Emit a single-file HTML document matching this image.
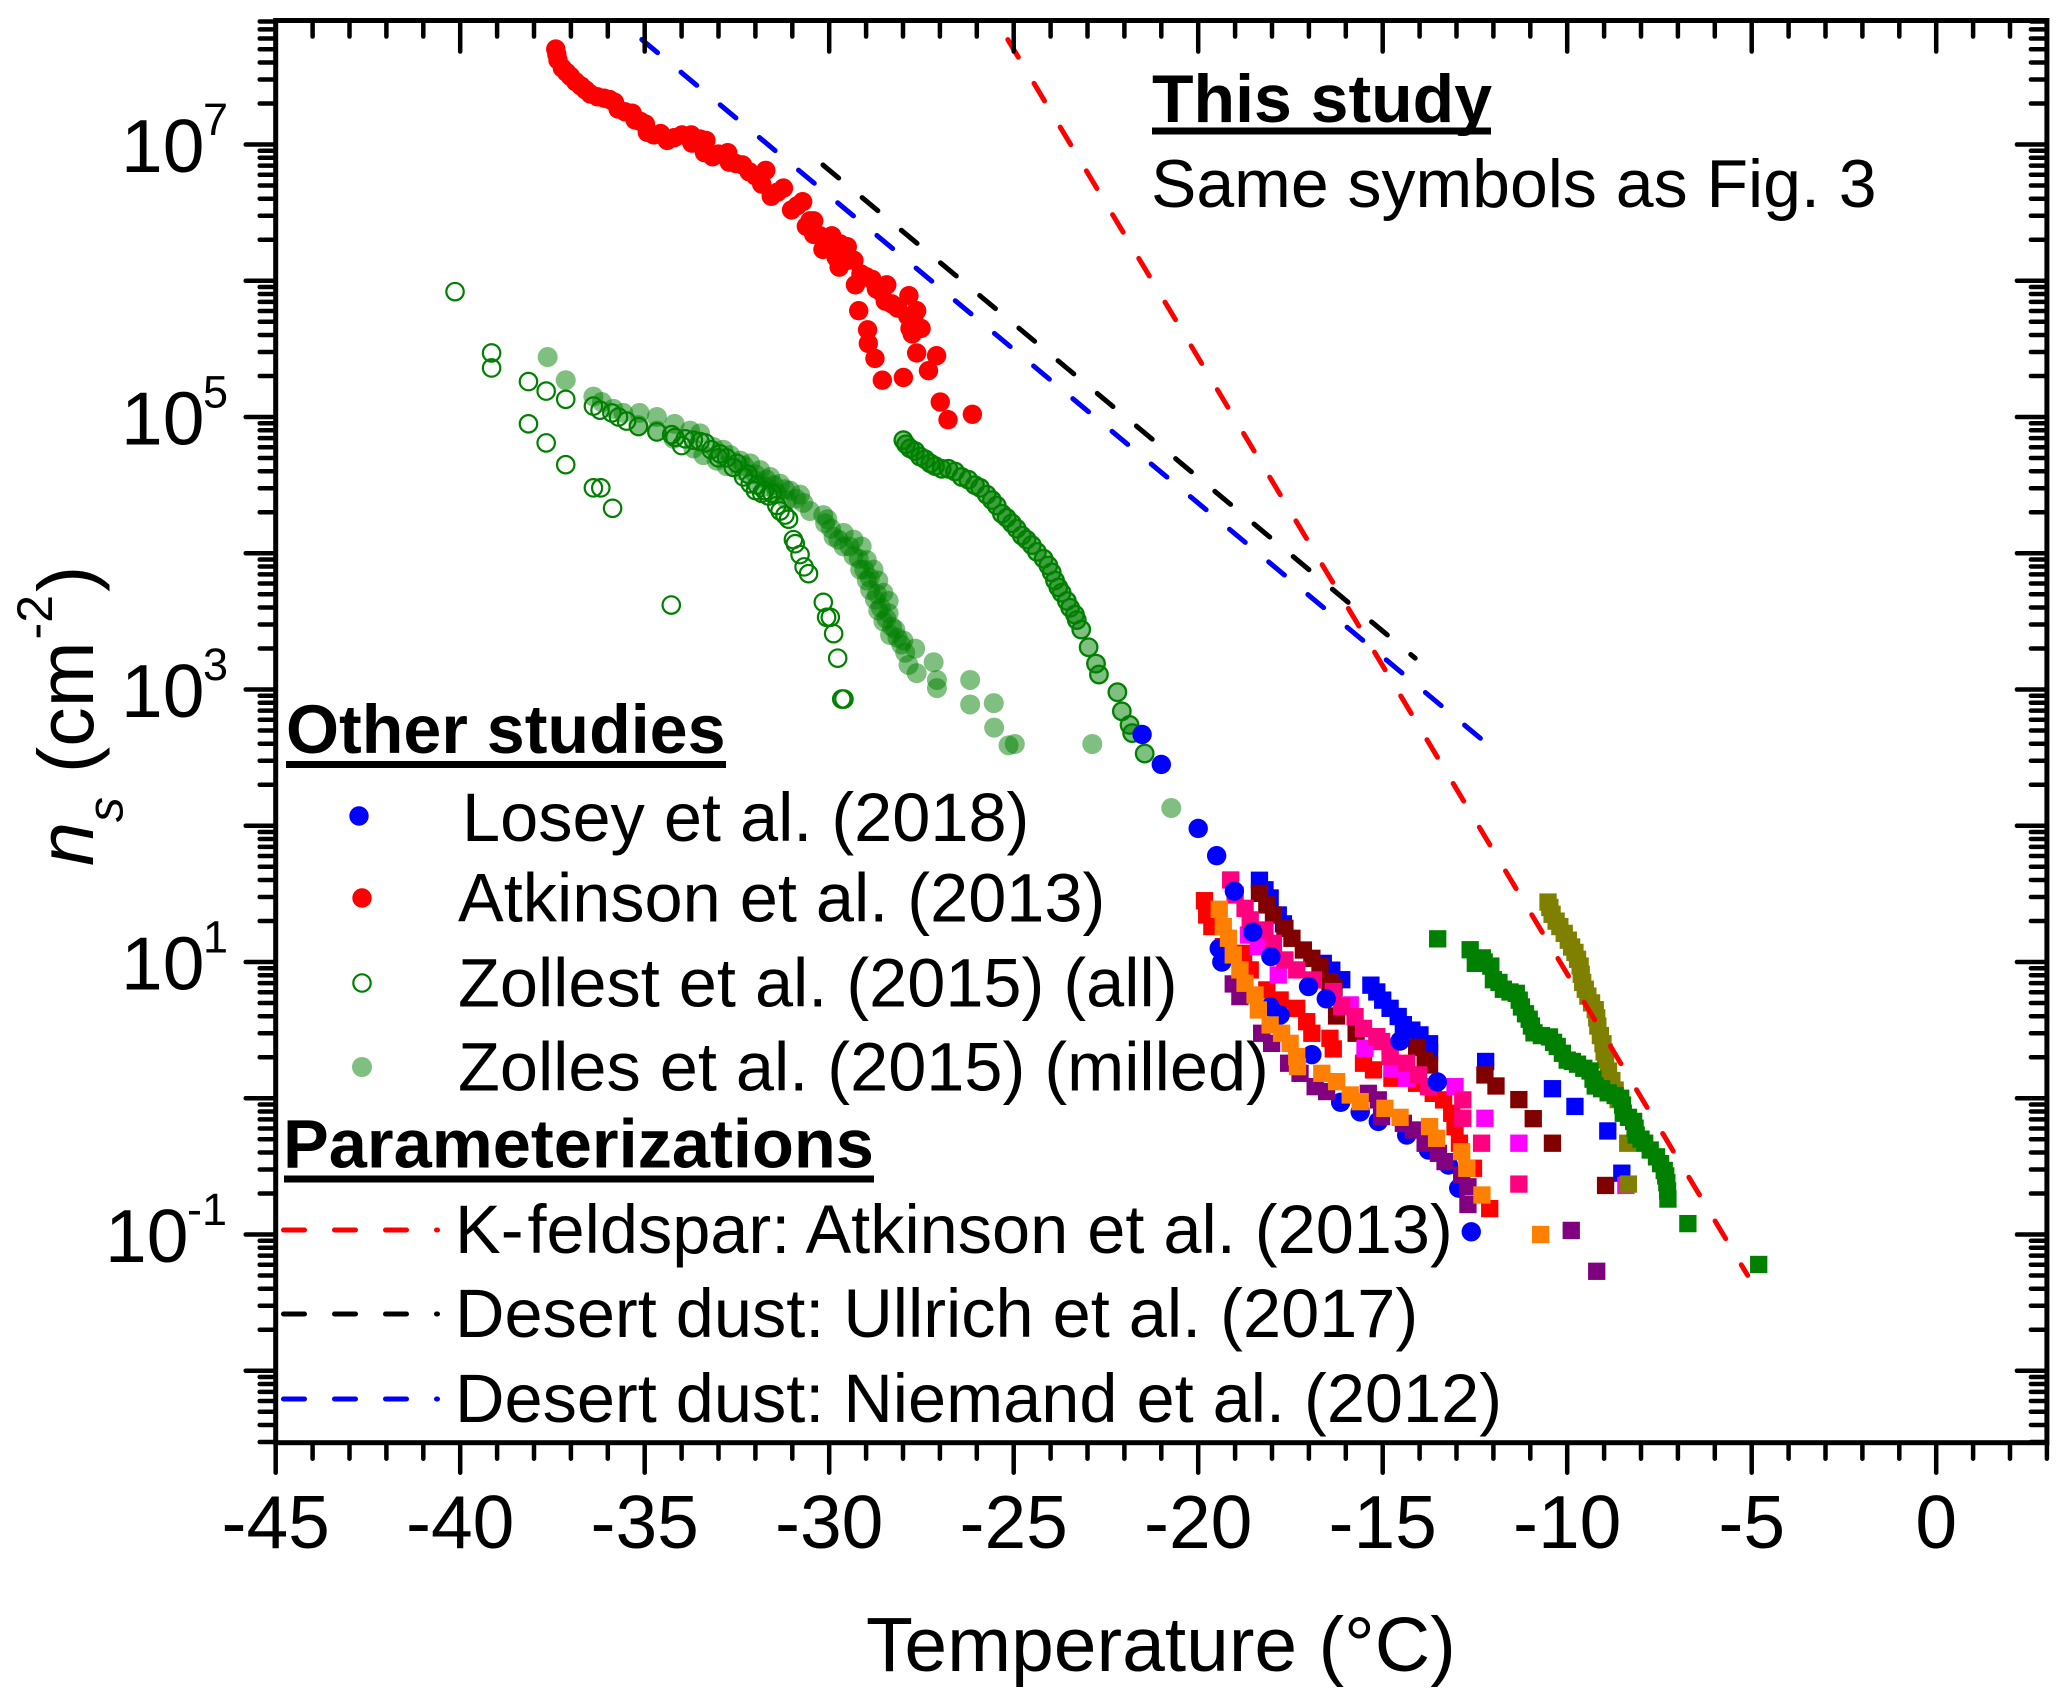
<!DOCTYPE html>
<html lang="en">
<head>
<meta charset="utf-8">
<title>Ice nucleation site density versus temperature</title>
<style>
html,body{margin:0;padding:0;background:#fff;}
svg{display:block;}
text{font-family:"Liberation Sans",Arial,sans-serif;fill:#000;}
</style>
</head>
<body>
<svg id="chart" xmlns="http://www.w3.org/2000/svg" width="2067" height="1705" viewBox="0 0 2067 1705">
  <rect x="0" y="0" width="2067" height="1705" fill="#fff"/>
  <defs><clipPath id="plot-clip"><rect x="275.7" y="20.5" width="1771.2" height="1422.2"/></clipPath></defs>
  <g id="points-layer" clip-path="url(#plot-clip)"></g>
  <g id="lines-layer" clip-path="url(#plot-clip)"></g>
  <g id="axes-layer"></g>

  <g>
    <text x="1152" y="122" font-size="68" font-weight="bold">This study</text>
    <rect x="1152" y="127.5" width="339" height="7"/>
    <text x="1151" y="207" font-size="68">Same symbols as Fig. 3</text>
  </g>

  <g>
    <text x="286" y="753" font-size="68.2" font-weight="bold">Other studies</text>
    <rect x="286" y="761" width="440" height="7"/>
    <circle cx="359" cy="816" r="9.7" fill="#0000ff"/>
    <text x="462" y="841" font-size="68.5">Losey et al. (2018)</text>
    <circle cx="362" cy="898" r="9.7" fill="#ff0000"/>
    <text x="458" y="921.7" font-size="68.5">Atkinson et al. (2013)</text>
    <circle cx="362" cy="983" r="8.7" fill="none" stroke="#008000" stroke-width="2.2"/>
    <text x="458" y="1006.7" font-size="68.5">Zollest et al. (2015) (all)</text>
    <circle cx="362" cy="1067" r="10" fill="#008000" fill-opacity="0.5"/>
    <text x="458" y="1090.7" font-size="68.5">Zolles et al. (2015) (milled)</text>
    <text x="283" y="1167.7" font-size="68.6" font-weight="bold">Parameterizations</text>
    <rect x="284" y="1175.5" width="590" height="7"/>
    <line x1="283.5" y1="1230" x2="437.5" y2="1230" stroke="#ff0000" stroke-width="5" stroke-linecap="round" stroke-dasharray="21 30"/>
    <text x="455" y="1253" font-size="68.5">K<tspan letter-spacing="4">-</tspan>feldspar: Atkinson et al. (2013)</text>
    <line x1="283.5" y1="1314" x2="437.5" y2="1314" stroke="#000000" stroke-width="5" stroke-linecap="round" stroke-dasharray="21 30"/>
    <text x="455" y="1337" font-size="68.5">Desert dust: Ullrich et al. (2017)</text>
    <line x1="283.5" y1="1399" x2="437.5" y2="1399" stroke="#0000ff" stroke-width="5" stroke-linecap="round" stroke-dasharray="21 30"/>
    <text x="455" y="1422" font-size="68.5">Desert dust: Niemand et al. (2012)</text>
  </g>

  <text x="866" y="1671" font-size="76.8">Temperature (°C)</text>
  <g transform="translate(93,866) rotate(-90)">
    <text font-size="79"><tspan font-style="italic">n</tspan><tspan font-size="50" font-style="italic" dy="29.7">s</tspan><tspan dx="24" dy="-29.7">(cm</tspan><tspan font-size="50" dx="2" dy="-41">-2</tspan><tspan dx="3" dy="41">)</tspan></text>
  </g>
</svg>

<script>
// ---- Axis tick values ----
const xMajorTicks = [-45,-40,-35,-30,-25,-20,-15,-10,-5,0];
const xTickLabels = ['-45','-40','-35','-30','-25','-20','-15','-10','-5','0'];
const xMinorTicks = [-44,-43,-42,-41,-39,-38,-37,-36,-34,-33,-32,-31,-29,-28,-27,-26,-24,-23,-22,-21,-19,-18,-17,-16,-14,-13,-12,-11,-9,-8,-7,-6,-4,-3,-2,-1,1,2,3];
const yDecades = [-2,-1,0,1,2,3,4,5,6,7];
const yLabelExponents = [7,5,3,1,-1];
const yMinorMultipliers = [2,3,4,5,6,7,8,9];
const yMinorExtra = [0.003,0.004,0.005,0.006,0.007,0.008,0.009];
const yTopMinor = [2e7,3e7,4e7,5e7,6e7,7e7,8e7];

// ---- Parameterization lines (temperature in C, log10 ns) ----
const kfeldsparT = [-25.16,-5.11];
const kfeldsparLogNs = [7.77,-1.30];
const ullrichT = [-30.17,-14.12];
const ullrichLogNs = [6.85,3.23];
const niemandT = [-36.14,-12.3];
const niemandLogNs = [8.01,2.63];

// ---- Atkinson et al. (2013) ----
const atkinsonT = [-37.41,-37.38,-37.35,-37.23,-37.12,-37.01,-36.87,-36.73,-36.6,-36.47,-36.28,-36.10,-35.95,-35.82,-35.72,-35.53,-35.34,-35.26,-35.12,-34.98,-34.93,-34.75,-34.57,-34.39,-34.2,-33.99,-33.74,-33.72,-33.5,-33.34,-33.38,-33.16,-33.0,-32.75,-32.71,-32.53,-32.35,-32.17,-32.0,-31.72,-31.83,-31.4,-31.24,-31.57,-30.87,-30.72,-31.02,-30.52,-30.42,-30.62,-30.25,-29.93,-30.42,-30.17,-29.95,-29.7,-29.66,-29.51,-29.5,-29.33,-29.81,-29.73,-29.14,-29.0,-28.84,-29.29,-28.6,-28.44,-28.72,-28.3,-27.84,-28.48,-28.15,-27.7,-27.63,-29.20,-27.87,-27.51,-27.81,-27.75,-28.96,-28.94,-28.76,-27.63,-27.09,-27.31,-28.56,-27.99,-26.99,-26.78,-26.12];
const atkinsonLogNs = [7.70,7.66,7.62,7.56,7.53,7.50,7.46,7.43,7.40,7.37,7.35,7.34,7.33,7.31,7.26,7.24,7.23,7.18,7.17,7.15,7.09,7.07,7.08,7.03,7.05,7.07,7.07,7.01,7.04,7.03,6.94,6.91,6.93,6.94,6.87,6.86,6.85,6.80,6.77,6.81,6.71,6.65,6.68,6.62,6.55,6.58,6.52,6.44,6.44,6.40,6.33,6.33,6.34,6.23,6.25,6.27,6.20,6.25,6.15,6.15,6.17,6.10,6.05,6.03,6.01,5.97,5.92,5.97,5.94,5.83,5.89,5.85,5.80,5.70,5.78,5.78,5.74,5.65,5.65,5.61,5.64,5.54,5.43,5.47,5.45,5.34,5.27,5.29,5.11,4.98,5.02];

// ---- Zolles et al. (2015), all samples only (open circles) ----
const zollesAllT = [-40.14,-39.15,-39.15,-38.15,-37.67,-37.14,-38.15,-37.67,-37.14,-36.39,-36.19,-35.87,-34.28,-36.39,-36.21,-35.89,-35.71,-35.49,-35.17,-34.67,-34.27,-34.18,-34.0,-33.9,-33.68,-33.5,-33.36,-33.2,-33.0,-32.96,-32.78,-32.6,-32.5,-32.32,-32.2,-32.14,-32.0,-31.95,-31.83,-31.75,-31.65,-31.55,-31.42,-31.33,-31.2,-31.1,-30.97,-30.92,-30.79,-30.68,-30.56,-30.16,-30.07,-29.97,-29.88,-29.77,-29.66,-29.6];
const zollesAllLogNs = [5.92,5.47,5.36,5.26,5.19,5.13,4.95,4.81,4.65,4.48,4.48,4.33,3.62,5.08,5.05,5.03,5.0,4.97,4.93,4.89,4.87,4.85,4.79,4.84,4.83,4.82,4.81,4.76,4.70,4.73,4.70,4.63,4.66,4.56,4.58,4.51,4.46,4.50,4.44,4.46,4.42,4.44,4.35,4.31,4.28,4.25,4.1,4.07,3.99,3.9,3.85,3.64,3.53,3.53,3.41,3.23,2.93,2.93];

// ---- Zolles et al. (2015), milled samples (filled circles) ----
const zollesMilledT = [-37.63,-37.14,-36.39,-36.16,-35.85,-35.58,-35.14,-35.17,-34.67,-34.67,-34.19,-34.22,-33.77,-33.5,-33.68,-33.41,-33.14,-32.87,-33.05,-32.68,-32.78,-32.41,-32.3,-32.14,-32.41,-32.0,-31.87,-32.05,-31.7,-31.6,-31.74,-31.5,-31.33,-31.42,-31.2,-31.06,-31.15,-30.9,-30.79,-30.7,-30.52,-30.16,-30.11,-30.05,-29.95,-29.88,-29.75,-29.61,-29.45,-29.34,-29.61,-29.2,-29.12,-29.34,-29.05,-28.98,-29.16,-28.9,-28.8,-28.98,-28.67,-28.89,-28.7,-28.53,-28.76,-28.6,-28.39,-28.67,-28.45,-28.39,-28.53,-28.3,-28.21,-28.35,-28.15,-28.05,-27.99,-27.67,-27.94,-27.85,-27.17,-27.63,-27.08,-27.08,-26.18,-26.18,-25.54,-25.53,-25.14,-24.97,-22.87,-20.73];
const zollesMilledLogNs = [5.44,5.27,5.15,5.11,5.06,5.03,5.03,4.94,5.0,4.9,4.95,4.84,4.9,4.88,4.77,4.72,4.78,4.76,4.68,4.72,4.64,4.68,4.64,4.66,4.61,4.58,4.61,4.54,4.54,4.56,4.49,4.5,4.51,4.44,4.47,4.46,4.39,4.4,4.43,4.37,4.31,4.28,4.22,4.25,4.18,4.12,4.1,4.15,4.05,4.1,4.05,3.96,4.05,3.98,3.88,3.95,3.88,3.82,3.88,3.8,3.8,3.73,3.7,3.71,3.66,3.6,3.65,3.58,3.52,3.56,3.5,3.46,3.44,3.4,3.38,3.33,3.36,3.3,3.27,3.18,3.2,3.12,3.07,3.01,3.07,2.89,2.90,2.72,2.59,2.60,2.60,2.13];

// ---- Zolles et al. (2015), curve present in both sets ----
const zollesBothT = [-27.99,-27.92,-27.81,-27.67,-27.54,-27.4,-27.26,-27.13,-26.95,-26.77,-26.59,-26.41,-26.23,-26.05,-25.91,-25.73,-25.59,-25.46,-25.32,-25.19,-25.05,-24.92,-24.78,-24.65,-24.51,-24.37,-24.19,-24.06,-23.97,-23.88,-23.79,-23.7,-23.56,-23.47,-23.34,-23.29,-23.17,-22.97,-22.77,-22.69,-22.19,-22.07,-21.86,-21.79,-21.45];
const zollesBothLogNs = [4.83,4.80,4.77,4.75,4.71,4.69,4.66,4.64,4.62,4.62,4.60,4.56,4.54,4.50,4.48,4.43,4.39,4.35,4.29,4.26,4.22,4.18,4.13,4.10,4.06,4.01,3.96,3.91,3.86,3.80,3.75,3.71,3.65,3.60,3.55,3.51,3.44,3.31,3.19,3.11,2.98,2.84,2.74,2.68,2.53];

// ---- Losey et al. (2018) ----
const loseyT = [-21.52,-21.0,-20.0,-19.5,-19.02,-18.52,-18.03,-17.01,-16.53,-14.53,-13.52,-12.6,-19.43,-19.36,-18.05,-17.78,-16.92,-16.14,-15.61,-15.12,-14.35,-13.76,-13.22,-12.94];
const loseyLogNs = [2.67,2.45,1.98,1.78,1.52,1.22,1.04,0.82,0.73,0.42,0.12,-0.98,1.10,1.0,0.67,0.61,0.32,-0.03,-0.10,-0.17,-0.27,-0.38,-0.49,-0.66];

// ---- This study (square symbols) ----
const blueSquareT = [-18.34,-18.19,-18.05,-17.83,-17.69,-16.61,-16.38,-16.11,-15.32,-15.16,-15.0,-14.8,-14.58,-14.44,-14.21,-13.99,-13.73,-13.73,-12.21,-10.4,-9.79,-8.9,-8.52];
const blueSquareLogNs = [1.60,1.53,1.47,1.345,1.28,0.99,0.94,0.87,0.83,0.78,0.72,0.66,0.60,0.54,0.50,0.465,0.40,0.34,0.27,0.07,-0.06,-0.24,-0.55];
const maroonSquareT = [-18.34,-18.14,-17.96,-17.65,-17.46,-17.15,-16.92,-16.7,-16.43,-16.32,-16.25,-15.72,-14.08,-13.85,-13.73,-12.23,-11.93,-11.31,-10.92,-10.4,-8.96];
const maroonSquareLogNs = [1.504,1.419,1.345,1.247,1.174,1.088,1.027,0.966,0.856,0.814,0.604,0.477,0.374,0.281,0.244,0.171,0.09,-0.01,-0.15,-0.33,-0.64];
const redSquareT = [-19.83,-19.77,-19.63,-19.32,-18.77,-18.59,-18.14,-17.78,-17.33,-17.06,-16.92,-16.43,-16.34,-15.52,-15.25,-14.75,-14.08,-13.63,-13.35,-13.13,-13.04,-12.92,-12.54,-12.1];
const redSquareLogNs = [1.45,1.345,1.26,1.113,1.064,0.942,0.795,0.721,0.66,0.562,0.477,0.44,0.362,0.257,0.208,0.147,0.11,0.036,-0.012,-0.11,-0.208,-0.33,-0.514,-0.81];
const magentaSquareT = [-18.64,-18.37,-17.83,-15.88,-15.48,-14.75,-14.35,-13.04,-12.23,-11.31,-8.41];
const magentaSquareLogNs = [1.198,1.113,0.905,0.685,0.367,0.22,0.147,0.085,-0.147,-0.33,-0.64];
const pinkSquareT = [-19.12,-19.0,-18.73,-18.59,-18.19,-17.96,-17.65,-17.33,-16.88,-16.34,-16.11,-15.75,-15.52,-15.16,-15.03,-14.8,-14.8,-14.35,-14.03,-13.76,-12.83,-12.83,-12.32,-11.31];
const pinkSquareLogNs = [1.602,1.492,1.394,1.309,1.235,1.137,1.015,0.942,0.868,0.783,0.673,0.599,0.513,0.452,0.416,0.379,0.306,0.257,0.171,0.085,-0.012,-0.147,-0.33,-0.63];
const purpleSquareT = [-19.05,-18.87,-18.28,-18.01,-17.55,-17.24,-16.83,-16.52,-15.39,-15.12,-15.03,-14.44,-14.17,-13.85,-13.49,-13.31,-12.86,-12.69,-12.69,-9.89,-9.2];
const purpleSquareLogNs = [0.839,0.746,0.477,0.403,0.257,0.183,0.085,0.049,0.036,-0.012,-0.135,-0.184,-0.233,-0.33,-0.404,-0.465,-0.563,-0.65,-0.78,-0.97,-1.27];
const orangeSquareT = [-19.43,-19.32,-19.18,-19.05,-18.87,-18.73,-18.46,-18.37,-18.05,-17.74,-17.51,-17.33,-17.31,-16.65,-16.25,-15.88,-15.61,-14.94,-14.53,-13.73,-13.54,-12.86,-12.72,-12.31,-10.72];
const orangeSquareLogNs = [1.387,1.26,1.174,1.052,0.942,0.844,0.758,0.648,0.538,0.477,0.403,0.306,0.232,0.183,0.122,0.024,-0.025,-0.074,-0.14,-0.208,-0.294,-0.392,-0.514,-0.71,-1.0];
const oliveSquareT = [-10.52,-10.47,-10.41,-10.3,-10.2,-10.08,-9.97,-9.88,-9.79,-9.72,-9.65,-9.62,-9.58,-9.51,-9.44,-9.34,-9.24,-9.2,-9.17,-9.1,-9.03,-9.0,-8.96,-8.88,-8.79,-8.7,-8.62,-8.36,-8.34];
const oliveSquareLogNs = [1.44,1.40,1.35,1.30,1.26,1.21,1.16,1.11,1.07,1.02,0.97,0.91,0.85,0.80,0.75,0.70,0.65,0.59,0.53,0.46,0.40,0.34,0.28,0.20,0.13,0.06,-0.01,-0.33,-0.63];
const greenSquareT = [-13.51,-12.63,-12.49,-12.3,-12.25,-12.07,-12.0,-11.85,-11.73,-11.55,-11.38,-11.3,-11.24,-11.13,-11.03,-10.97,-10.9,-10.7,-10.48,-10.37,-10.27,-10.13,-10.0,-9.86,-9.72,-9.55,-9.38,-9.3,-9.24,-9.07,-8.89,-8.7,-8.55,-8.5,-8.48,-8.34,-8.2,-8.16,-8.13,-8.0,-7.9,-7.75,-7.58,-7.47,-7.37,-7.33,-7.3,-7.28,-7.27,-6.73,-4.81];
const greenSquareLogNs = [1.17,1.09,0.99,1.03,1.0,0.97,0.87,0.85,0.8,0.78,0.77,0.72,0.67,0.62,0.58,0.53,0.48,0.46,0.45,0.41,0.38,0.33,0.28,0.27,0.25,0.22,0.2,0.14,0.09,0.07,0.04,0.02,0,-0.05,-0.11,-0.14,-0.17,-0.22,-0.27,-0.3,-0.33,-0.38,-0.43,-0.48,-0.53,-0.57,-0.62,-0.68,-0.74,-0.92,-1.22];

// ---- Axis functions ----
const NS = 'http://www.w3.org/2000/svg';
const xScale = function (t) { return 275.7 + (t + 45) * 36.9; };
const yScale = function (logNs) { return 144.5 + (7 - logNs) * 136.25; };
const PLOT = { left: xScale(-45), right: xScale(3), top: 20.5, bottom: 1442.7 };

const pointsLayer = document.getElementById('points-layer');
const linesLayer = document.getElementById('lines-layer');
const axesLayer = document.getElementById('axes-layer');

function drawCircles(name, ts, logs, r, fill, fillOpacity, stroke, strokeWidth) {
  ts.forEach(function (t, i) {
    const el = document.createElementNS(NS, 'circle');
    
    
    el.setAttribute('cx', xScale(t));
    el.setAttribute('cy', yScale(logs[i]));
    el.setAttribute('r', r);
    el.setAttribute('fill', fill);
    el.setAttribute('fill-opacity', fillOpacity);
    el.setAttribute('stroke', stroke);
    el.setAttribute('stroke-width', strokeWidth);
    pointsLayer.appendChild(el);
  });
}

function drawSquares(name, ts, logs, fill) {
  const side = 17.3;
  ts.forEach(function (t, i) {
    const el = document.createElementNS(NS, 'rect');
    
    
    el.setAttribute('x', xScale(t) - side / 2);
    el.setAttribute('y', yScale(logs[i]) - side / 2);
    el.setAttribute('width', side);
    el.setAttribute('height', side);
    el.setAttribute('fill', fill);
    pointsLayer.appendChild(el);
  });
}

function drawDashedLine(name, ts, logs, color) {
  const el = document.createElementNS(NS, 'line');
  
  
  el.setAttribute('x1', xScale(ts[0]));
  el.setAttribute('y1', yScale(logs[0]));
  el.setAttribute('x2', xScale(ts[1]));
  el.setAttribute('y2', yScale(logs[1]));
  el.setAttribute('stroke', color);
  el.setAttribute('stroke-width', 5);
  el.setAttribute('stroke-linecap', 'round');
  el.setAttribute('stroke-dasharray', '20.5 30.5');
  linesLayer.appendChild(el);
}

function drawTick(name, x1, y1, x2, y2) {
  const el = document.createElementNS(NS, 'line');
  
  
  el.setAttribute('x1', x1);
  el.setAttribute('y1', y1);
  el.setAttribute('x2', x2);
  el.setAttribute('y2', y2);
  el.setAttribute('stroke', '#000');
  el.setAttribute('stroke-width', 4.5);
  el.setAttribute('stroke-linecap', 'round');
  axesLayer.appendChild(el);
}

function drawLabel(name, x, y, size, anchor, str) {
  const el = document.createElementNS(NS, 'text');
  
  
  el.setAttribute('x', x);
  el.setAttribute('y', y);
  el.setAttribute('font-size', size);
  el.setAttribute('text-anchor', anchor);
  el.textContent = str;
  axesLayer.appendChild(el);
}

// ---- Points (back to front) ----
drawCircles('zolles-all-point', zollesAllT, zollesAllLogNs, 8.7, 'none', 1, '#008000', 2.2);
drawCircles('zolles-milled-point', zollesMilledT, zollesMilledLogNs, 10, '#008000', 0.5, 'none', 0);
drawCircles('zolles-milled-point', zollesBothT, zollesBothLogNs, 10, '#008000', 0.5, 'none', 0);
drawCircles('zolles-all-point', zollesBothT, zollesBothLogNs, 8.7, 'none', 1, '#008000', 2.2);
drawCircles('atkinson-point', atkinsonT, atkinsonLogNs, 9.7, '#ff0000', 1, 'none', 0);
drawSquares('study-point-blue', blueSquareT, blueSquareLogNs, '#0000ff');
drawSquares('study-point-maroon', maroonSquareT, maroonSquareLogNs, '#800000');
drawSquares('study-point-red', redSquareT, redSquareLogNs, '#ff0000');
drawSquares('study-point-magenta', magentaSquareT, magentaSquareLogNs, '#ff00ff');
drawSquares('study-point-pink', pinkSquareT, pinkSquareLogNs, '#ff0080');
drawCircles('losey-point', loseyT, loseyLogNs, 9.7, '#0000ff', 1, 'none', 0);
drawSquares('study-point-purple', purpleSquareT, purpleSquareLogNs, '#800080');
drawSquares('study-point-orange', orangeSquareT, orangeSquareLogNs, '#ff8000');
drawSquares('study-point-olive', oliveSquareT, oliveSquareLogNs, '#808000');
drawSquares('study-point-green', greenSquareT, greenSquareLogNs, '#008000');

// ---- Parameterizations ----
drawDashedLine('kfeldspar-line', kfeldsparT, kfeldsparLogNs, '#ff0000');
drawDashedLine('ullrich-line', ullrichT, ullrichLogNs, '#000000');
drawDashedLine('niemand-line', niemandT, niemandLogNs, '#0000ff');

// ---- Frame ----
const frame = document.createElementNS(NS, 'rect');


frame.setAttribute('x', PLOT.left);
frame.setAttribute('y', PLOT.top);
frame.setAttribute('width', PLOT.right - PLOT.left);
frame.setAttribute('height', PLOT.bottom - PLOT.top);
frame.setAttribute('fill', 'none');
frame.setAttribute('stroke', '#000');
frame.setAttribute('stroke-width', 5);
axesLayer.appendChild(frame);

// ---- X ticks ----
xMajorTicks.forEach(function (t, i) {
  const x = xScale(t);
  drawTick('x-major-tick', x, PLOT.bottom, x, PLOT.bottom + 30);
  drawTick('x-major-tick-top', x, PLOT.top, x, PLOT.top + 31);
  drawLabel('x-tick-label', x, 1548, 75, 'middle', xTickLabels[i]);
});
xMinorTicks.forEach(function (t) {
  const x = xScale(t);
  drawTick('x-minor-tick', x, PLOT.bottom, x, PLOT.bottom + 16);
  if (t < 3) {
    drawTick('x-minor-tick-top', x, PLOT.top, x, PLOT.top + 16);
  }
});

// ---- Y ticks ----
function drawYMinor(value) {
  const y = yScale(Math.log10(value));
  drawTick('y-minor-tick', PLOT.left, y, PLOT.left - 16, y);
  drawTick('y-minor-tick-right', PLOT.right, y, PLOT.right - 16, y);
}
yDecades.forEach(function (d) {
  const y = yScale(d);
  drawTick('y-major-tick', PLOT.left, y, PLOT.left - 30, y);
  drawTick('y-major-tick-right', PLOT.right, y, PLOT.right - 30, y);
  if (d < 7) {
    yMinorMultipliers.forEach(function (m) {
      drawYMinor(m * Math.pow(10, d));
    });
  }
});
yMinorExtra.forEach(drawYMinor);
yTopMinor.forEach(drawYMinor);

yLabelExponents.forEach(function (e) {
  const y = yScale(e);
  const isNegative = e < 0;
  drawLabel('y-tick-label-base', isNegative ? 105 : 121, y + 27.4, 75, 'start', '10');
  drawLabel('y-tick-label-exponent', isNegative ? 187 : 203, y - 9.6, 45, 'start', String(e));
});
</script>
</body>
</html>
